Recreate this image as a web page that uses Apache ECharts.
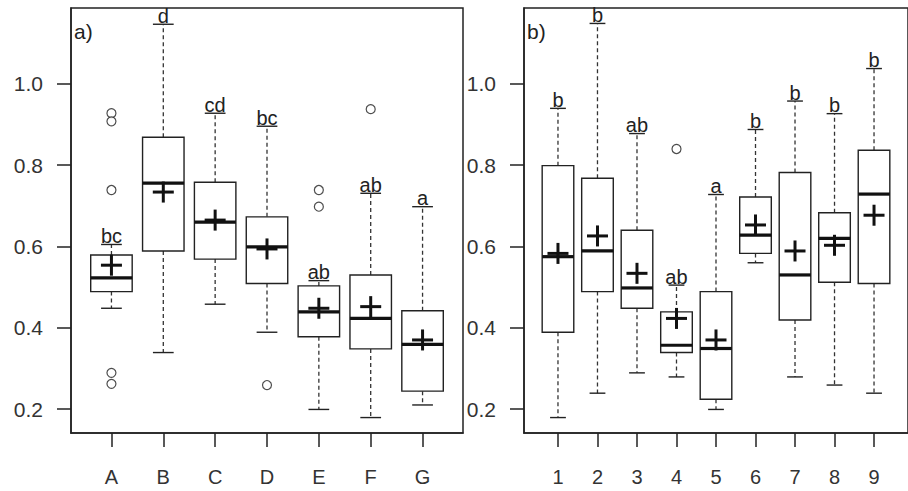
<!DOCTYPE html>
<html>
<head>
<meta charset="utf-8">
<script src="https://cdn.jsdelivr.net/npm/echarts@6/dist/echarts.min.js"></script>
<style>html,body{margin:0;padding:0;background:#fff}#c{width:908px;height:491px}</style>
</head>
<body>
<div id="c"></div>
<script>
// Panel a)
const catsA = ['A','B','C','D','E','F','G'];
const lowA  = [0.448,0.339,0.458,0.389,0.199,0.179,0.210];
const q1A   = [0.489,0.589,0.569,0.509,0.378,0.348,0.244];
const medA  = [0.523,0.756,0.660,0.599,0.439,0.423,0.359];
const q3A   = [0.579,0.869,0.758,0.673,0.503,0.530,0.442];
const highA = [0.605,1.147,0.928,0.896,0.516,0.731,0.698];
const meanA = [0.554,0.734,0.665,0.594,0.448,0.452,0.370];
const letA  = ['bc','d','cd','bc','ab','ab','a'];
const outCatA = ['A','A','A','A','A','D','E','E','F'];
const outValA = [0.928,0.908,0.739,0.289,0.262,0.259,0.739,0.698,0.938];

// Panel b)
const catsB = ['1','2','3','4','5','6','7','8','9'];
const lowB  = [0.179,0.239,0.289,0.279,0.199,0.560,0.279,0.259,0.239];
const q1B   = [0.389,0.489,0.448,0.339,0.224,0.583,0.419,0.512,0.509];
const medB  = [0.575,0.589,0.498,0.357,0.349,0.628,0.530,0.620,0.729];
const q3B   = [0.799,0.768,0.640,0.439,0.489,0.722,0.782,0.683,0.837];
const highB = [0.940,1.149,0.878,0.505,0.728,0.888,0.958,0.927,1.038];
const meanB = [0.583,0.626,0.534,0.423,0.370,0.653,0.589,0.603,0.677];
const letB  = ['b','b','ab','ab','a','b','b','b','b'];
const outCatB = ['4'];
const outValB = [0.840];

const yTicks = [0.2,0.4,0.6,0.8,1.0];

const INK = '#222';
const FONT = 'Liberation Sans, Arial, sans-serif';

function boxData(cats, low, q1, med, q3, high, mean, lets) {
  return cats.map((c, i) => ({ value: [i + 1, low[i], q1[i], med[i], q3[i], high[i], mean[i]], letter: lets[i] }));
}
function outData(cats, outCat, outVal) {
  return outCat.map((c, i) => [cats.indexOf(c) + 1, outVal[i]]);
}

function makeRender(letters) {
  return function (params, api) {
    const x = api.value(0);
    const low = api.value(1), q1 = api.value(2), med = api.value(3), q3 = api.value(4), high = api.value(5), mean = api.value(6);
    const boxW = api.size([0.8, 0])[0];
    const capW = api.size([0.4, 0])[0];
    const cx = api.coord([x, med])[0];
    const yLow = api.coord([x, low])[1];
    const yQ1 = api.coord([x, q1])[1];
    const yMed = api.coord([x, med])[1];
    const yQ3 = api.coord([x, q3])[1];
    const yHigh = api.coord([x, high])[1];
    const yMean = api.coord([x, mean])[1];
    const plus = 10.5;
    const dashStyle = { stroke: '#333', lineWidth: 1.3, lineDash: [4, 3], fill: null };
    const solid = { stroke: INK, lineWidth: 1.4, fill: null };
    const children = [
      { type: 'line', shape: { x1: cx, y1: yQ3, x2: cx, y2: yHigh }, style: dashStyle },
      { type: 'line', shape: { x1: cx, y1: yQ1, x2: cx, y2: yLow }, style: dashStyle },
      { type: 'line', shape: { x1: cx - capW / 2, y1: yHigh, x2: cx + capW / 2, y2: yHigh }, style: solid },
      { type: 'line', shape: { x1: cx - capW / 2, y1: yLow, x2: cx + capW / 2, y2: yLow }, style: solid },
      { type: 'rect', shape: { x: cx - boxW / 2, y: yQ3, width: boxW, height: yQ1 - yQ3 }, style: { stroke: INK, lineWidth: 1.4, fill: '#fff' } },
      { type: 'line', shape: { x1: cx - boxW / 2, y1: yMed, x2: cx + boxW / 2, y2: yMed }, style: { stroke: '#111', lineWidth: 3.2 } },
      { type: 'line', shape: { x1: cx - plus, y1: yMean, x2: cx + plus, y2: yMean }, style: { stroke: '#111', lineWidth: 3 } },
      { type: 'line', shape: { x1: cx, y1: yMean - plus, x2: cx, y2: yMean + plus }, style: { stroke: '#111', lineWidth: 3 } },
      { type: 'text', x: cx, y: yHigh + 1.5, style: { text: letters[params.dataIndex], fill: INK, font: '20px ' + FONT, align: 'center', verticalAlign: 'bottom' } }
    ];
    return { type: 'group', children };
  };
}

function xAxis(gridIndex, cats, min, max) {
  const vals = cats.map((c, i) => i + 1);
  return {
    type: 'value', gridIndex, min, max,
    splitLine: { show: false },
    axisLine: { show: true, onZero: false, lineStyle: { color: INK, width: 1.5 } },
    axisTick: { show: true, length: 14, customValues: vals, lineStyle: { color: INK, width: 1.5 } },
    axisLabel: { show: true, customValues: vals, margin: 34, fontSize: 20, color: '#333', fontFamily: FONT,
      formatter: v => cats[Math.round(v) - 1] }
  };
}
function yAxis(gridIndex) {
  return {
    type: 'value', gridIndex, min: 0.141, max: 1.187,
    splitLine: { show: false },
    axisLine: { show: true, onZero: false, lineStyle: { color: INK, width: 1.5 } },
    axisTick: { show: true, length: 14, customValues: yTicks, lineStyle: { color: INK, width: 1.5 } },
    axisLabel: { show: true, customValues: yTicks, margin: 28, fontSize: 21, color: '#333', fontFamily: FONT,
      formatter: v => v.toFixed(1) }
  };
}

const chart = echarts.init(document.getElementById('c'), null, { renderer: 'svg' });
chart.setOption({
  animation: false,
  backgroundColor: '#fff',
  grid: [
    { left: 71, top: 8, width: 392, height: 425, show: true, borderColor: INK, borderWidth: 1.5, backgroundColor: 'transparent' },
    { left: 524, top: 8, width: 396, height: 425, show: true, borderColor: INK, borderWidth: 1.5, backgroundColor: 'transparent' }
  ],
  xAxis: [xAxis(0, catsA, 0.22, 7.78), xAxis(1, catsB, 0.14, 9.86)],
  yAxis: [yAxis(0), yAxis(1)],
  graphic: [
    { type: 'text', left: 74, top: 21, style: { text: 'a)', font: '21px ' + FONT, fill: INK } },
    { type: 'text', left: 527, top: 21, style: { text: 'b)', font: '21px ' + FONT, fill: INK } }
  ],
  series: [
    { type: 'custom', xAxisIndex: 0, yAxisIndex: 0, renderItem: makeRender(letA), data: boxData(catsA, lowA, q1A, medA, q3A, highA, meanA, letA), clip: false },
    { type: 'custom', xAxisIndex: 1, yAxisIndex: 1, renderItem: makeRender(letB), data: boxData(catsB, lowB, q1B, medB, q3B, highB, meanB, letB), clip: false },
    { type: 'scatter', xAxisIndex: 0, yAxisIndex: 0, symbol: 'circle', symbolSize: 9,
      itemStyle: { color: '#fff', borderColor: INK, borderWidth: 1.2 }, data: outData(catsA, outCatA, outValA) },
    { type: 'scatter', xAxisIndex: 1, yAxisIndex: 1, symbol: 'circle', symbolSize: 9,
      itemStyle: { color: '#fff', borderColor: INK, borderWidth: 1.2 }, data: outData(catsB, outCatB, outValB) }
  ]
});
</script>
</body>
</html>
